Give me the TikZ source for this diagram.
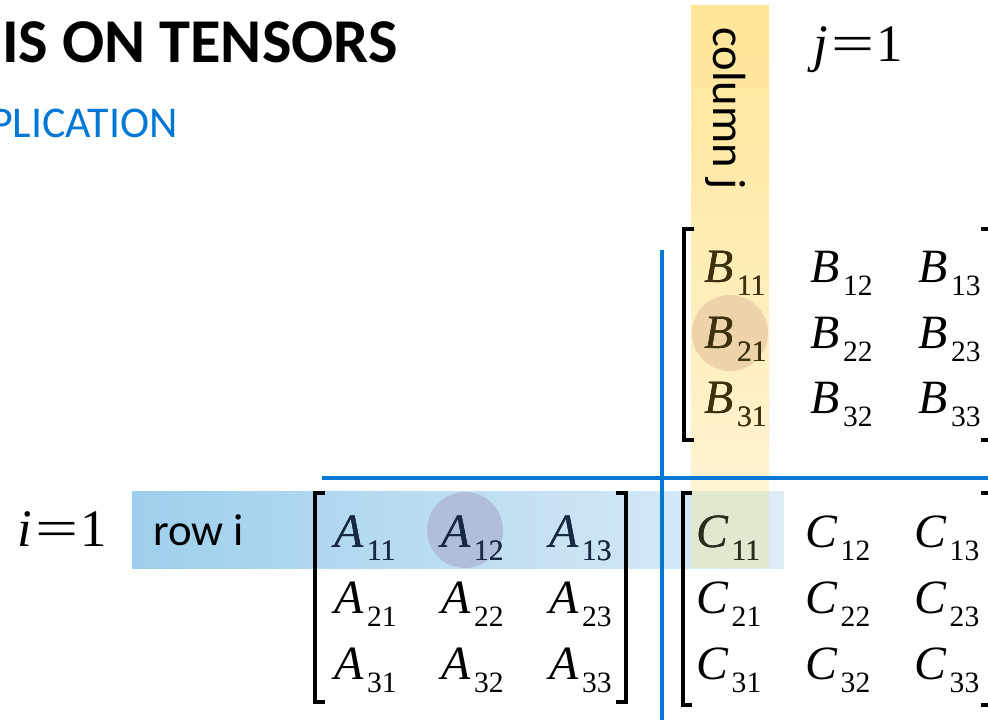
\documentclass[tikz,border=0pt]{standalone}
\usepackage{fontspec}
\usepackage{graphicx}
\setmainfont{Liberation Serif}
\newfontfamily\slidefont{Carlito}
\usetikzlibrary{positioning}

\definecolor{msblue}{RGB}{0,120,212}
\definecolor{bandblueL}{RGB}{157,207,236}
\definecolor{bandblueR}{RGB}{222,237,248}
\definecolor{bandyelT}{RGB}{255,229,150}
\definecolor{bandyelB}{RGB}{255,244,210}
\definecolor{bandmix}{RGB}{224,232,208}
\definecolor{dotblue}{RGB}{176,190,220}
\definecolor{dotbrown}{RGB}{237,210,170}
\definecolor{inkblue}{RGB}{22,42,68}
\definecolor{inkyel}{RGB}{62,50,12}
\definecolor{inkmix}{RGB}{40,46,28}

% matrix entry: italic letter with a lowered index
\newcommand{\ent}[2]{{\fontsize{27.2}{27.2}\selectfont\itshape #1}\kern2pt{\fontsize{16.8}{16.8}\selectfont\raisebox{-7.4pt}{#2}}}
\newcommand{\idxeq}[1]{\fontsize{30}{30}\selectfont{\itshape #1}\hspace{0.07em}\scalebox{1.45}[1]{=}\hspace{0.04em}1}

\begin{document}
\begin{tikzpicture}[
    x=0.02cm, y=-0.02cm,
    ent/.style={anchor=base west, inner sep=0pt},
    lbl/.style={anchor=base west, inner sep=0pt, font=\slidefont\fontsize{25.5}{25.5}\selectfont},
    brk/.style={line width=2.1pt, miter limit=10},
    sep/.style={draw=msblue, line width=2.2pt},
    dot/.style={circle, minimum size=76*0.02cm, inner sep=0pt}
]
    \useasboundingbox (0,0) rectangle (988,720);
    \clip (0,0) rectangle (988,720);

    %% Title (cut by the slide edge)
    \node[anchor=base east, inner sep=0pt, font=\slidefont\bfseries\fontsize{35.5}{35.5}\selectfont] (title) at (398,62) {IS ON TENSORS};
    \node[anchor=base east, inner sep=0pt, text=msblue, font=\slidefont\fontsize{25}{25}\selectfont] (subtitle) at (178,137) {PLICATION};

    %% Row and column bands
    \shade[left color=bandblueL, right color=bandblueR] (132,491) rectangle (784,568);
    \shade[top color=bandyelT, bottom color=bandyelB] (691,5) rectangle (769,491);
    \fill[bandmix] (691,491) rectangle (769,568);

    %% Highlighted factors
    \node[dot, fill=dotblue] (hiA) at (465,530) {};
    \node[dot, fill=dotbrown] (hiB) at (730,333) {};

    %% Separating lines
    \coordinate (vtop) at (662,250);
    \coordinate (vbot) at (662,720);
    \coordinate (hleft) at (322,478);
    \coordinate (hright) at (988,478);
    \draw[sep] (vtop) -- (vbot);
    \draw[sep] (hleft) -- (hright);

    %% Matrix A
    \foreach \r/\yb in {1/547,2/613,3/679}
        \foreach \c/\xa in {1/334,2/441,3/549}
            \node[ent] (A\r\c) at (\xa,\yb) {\ent{A}{\r\c}};
    \foreach \c in {1,2,3}
        \node[ent, text=inkblue] at (A1\c.base west) {\ent{A}{1\c}};
    \draw[brk] (325,493) -- (315,493) -- (315,702) -- (325,702);
    \draw[brk] (616,493) -- (626,493) -- (626,702) -- (616,702);

    %% Matrix B
    \foreach \r/\yb in {1/282,2/348,3/413}
        \foreach \c/\xa in {1/704,2/810,3/918}
            \node[ent] (B\r\c) at (\xa,\yb) {\ent{B}{\r\c}};
    \foreach \r in {1,2,3}
        \node[ent, text=inkyel] at (B\r1.base west) {\ent{B}{\r1}};
    \draw[brk] (694,229) -- (684,229) -- (684,440) -- (694,440);
    \draw[brk] (981,229) -- (991,229) -- (991,440) -- (981,440);

    %% Matrix C
    \foreach \r/\yb in {1/547,2/613,3/679}
        \foreach \c/\xa in {1/696,2/805,3/914}
            \node[ent] (C\r\c) at (\xa,\yb) {\ent{C}{\r\c}};
    \node[ent, text=inkmix] at (C11.base west) {\ent{C}{11}};
    \draw[brk] (692,493) -- (683,493) -- (683,705) -- (692,705);
    \draw[brk] (981,493) -- (991,493) -- (991,705) -- (981,705);

    %% Labels
    \node[lbl] (rowi) at (153,545) {row i};
    \node[lbl, rotate=-90, font=\slidefont\fontsize{26.5}{26.5}\selectfont] (colj) at (713,27) {column j};
    \node[ent] (ieq) at (17,546) {\idxeq{i}};
    \node[ent] (jeq) at (813,61) {\idxeq{j}};
\end{tikzpicture}
\end{document}
